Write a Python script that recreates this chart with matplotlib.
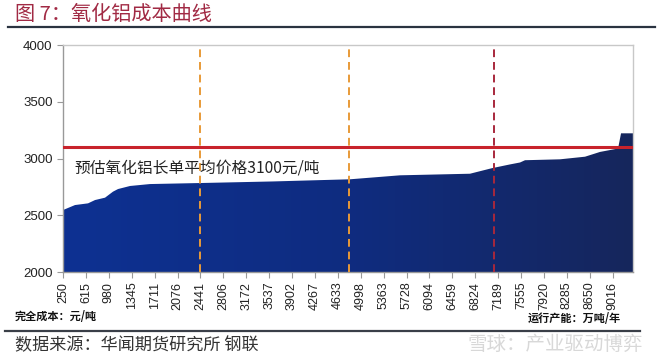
import matplotlib.pyplot as plt
import numpy as np
from matplotlib.colors import LinearSegmentedColormap

plt.rcParams['font.family'] = ['Liberation Sans', 'Noto Sans CJK SC', 'DejaVu Sans']

# cumulative running capacity (万吨/年) vs full cost (元/吨)
capacity = [250, 441, 649, 760, 920, 1047, 1127, 1319, 1637, 2435, 3600, 4828,
            5625, 6741, 7092, 7379, 7539, 7619, 8177, 8576, 8815, 9054, 9102, 9150, 9341]
cost = [2546, 2590, 2605, 2634, 2655, 2708, 2731, 2758, 2775, 2784, 2798, 2817,
        2852, 2866, 2915, 2948, 2965, 2985, 2993, 3016, 3058, 3083, 3086, 3222, 3222]

tick_labels = ['250', '615', '980', '1345', '1711', '2076', '2441', '2806', '3172',
               '3537', '3902', '4267', '4633', '4998', '5363', '5728', '6094', '6459',
               '6824', '7189', '7555', '7920', '8285', '8650', '9016']
tick_pos = [250 + i * 365.25 for i in range(len(tick_labels))]

avg_price = 3100
orange_lines = [2441, 4810]
red_vline = 7120
label_text = '预估氧化铝长单平均价格3100元/吨'

fig = plt.figure(figsize=(6.6, 3.59), dpi=100)
ax = fig.add_axes([0.0955, 0.2423, 0.8636, 0.6323])

xmin, xmax = 250, 9341
ymin, ymax = 2000, 4000

# area with left-to-right gradient
poly = ax.fill_between(capacity, cost, ymin, color='none', lw=0)
cmap = LinearSegmentedColormap.from_list('g', ['#0d3192', '#0f2c80', '#16265c'])
grad = np.linspace(0, 1, 256).reshape(1, -1)
im = ax.imshow(grad, cmap=cmap, extent=[xmin, xmax, ymin, ymax], aspect='auto', zorder=1)
im.set_clip_path(poly.get_paths()[0], transform=ax.transData)

ax.axhline(avg_price, color='#c8232c', lw=2.2, zorder=3)
for xv in orange_lines:
    ax.axvline(xv, color='#e89a38', lw=1.4, ls=(0, (4, 2.5)), zorder=4)
ax.axvline(red_vline, color='#a8283c', lw=1.4, ls=(0, (4, 2.5)), zorder=4)

ax.text(440, 2916, label_text, fontsize=11.3, color='#222222', va='center',
        family=['Noto Sans CJK SC', 'Liberation Sans'], zorder=5)

ax.set_xlim(xmin, xmax)
ax.set_ylim(ymin, ymax)
ax.set_yticks([2000, 2500, 3000, 3500, 4000])
ax.set_xticks(tick_pos)
ax.set_xticklabels(tick_labels, rotation=90)
ax.tick_params(axis='y', labelsize=9.5, colors='#222222', length=4, color='#999999')
ax.tick_params(axis='x', labelsize=9, colors='#222222', length=4, color='#999999', pad=3)
for s in ax.spines.values():
    s.set_color('#c8c8c8')
    s.set_linewidth(1)
ax.spines['left'].set_color('#999999')
ax.spines['bottom'].set_color('#999999')

# title, rules, notes
fig.text(15 / 660, 1 - 14 / 359, '图 7：氧化铝成本曲线', fontsize=14.5, color='#a12a44',
         va='center', family=['Noto Sans CJK SC', 'DejaVu Sans'])
fig.add_artist(plt.Line2D([8 / 660, 655 / 660], [1 - 27 / 359] * 2, color='#2a3340', lw=1.6))
fig.add_artist(plt.Line2D([5 / 660, 640 / 660], [1 - 331 / 359] * 2, color='#3a3f48', lw=1.6))
fig.text(15 / 660, 1 - 316 / 359, '完全成本：元/吨', fontsize=8, weight='bold', color='#111111',
         va='center', family=['Noto Sans CJK SC', 'DejaVu Sans'])
fig.text(621 / 660, 1 - 318 / 359, '运行产能：万吨/年', fontsize=8, weight='bold', color='#111111',
         va='center', ha='right', family=['Noto Sans CJK SC', 'DejaVu Sans'])
fig.text(15 / 660, 1 - 345 / 359, '数据来源：华闻期货研究所 钢联', fontsize=12.3, color='#333333',
         va='center', family=['Noto Sans CJK SC', 'DejaVu Sans'])
fig.text(643 / 660, 1 - 344 / 359, '雪球：产业驱动博弈', fontsize=14, color='#d8d8d8',
         va='center', ha='right', family=['Noto Sans CJK SC', 'DejaVu Sans'])

fig.savefig('out.png', dpi=100)
